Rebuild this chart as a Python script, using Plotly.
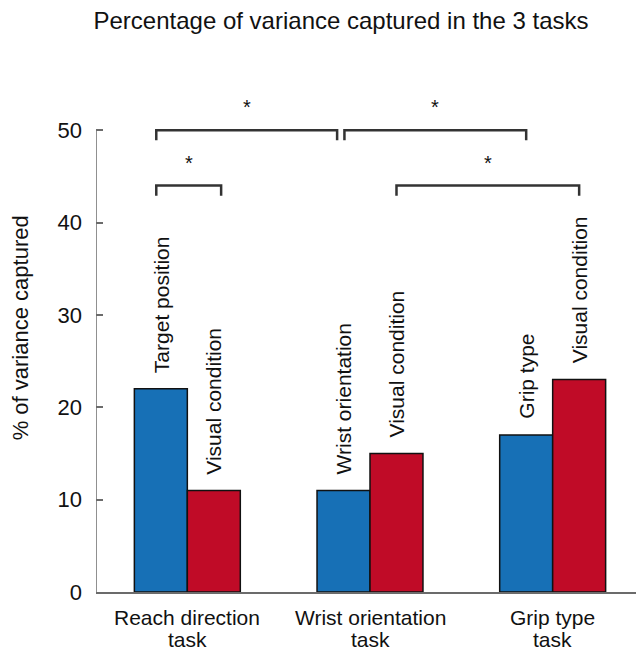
import plotly.graph_objects as go

# ---- data ----
tasks = ["Reach direction", "Wrist orientation", "Grip type"]
task_suffix = ["task", "task", "task"]
task_factor = [22, 11, 17]          # blue bars
visual_condition = [11, 15, 23]     # red bars
factor_labels = ["Target position", "Wrist orientation", "Grip type"]
visual_labels = ["Visual condition", "Visual condition", "Visual condition"]
y_ticks = [0, 10, 20, 30, 40, 50]
# significance comparisons: (task_a, series_a, task_b, series_b, level)
comparisons = [
    (0, 0, 1, 0, 50),
    (1, 0, 2, 0, 50),
    (0, 0, 0, 1, 44),
    (1, 1, 2, 1, 44),
]
# small horizontal nudges of bracket ends (style)
bracket_nudge = [(-0.025, -0.035), (0.005, 0.0), (-0.025, 0.04), (0.0, 0.0)]

BLUE = "#1770b6"
RED = "#c00b27"
FONT = "Liberation Sans, Arial, Helvetica, sans-serif"
AXIS = "#6b6b6b"

bargap = 0.42
bw = (1 - bargap) / 2
xs = list(range(len(tasks)))

fig = go.Figure()
fig.add_trace(go.Bar(x=xs, y=task_factor, marker=dict(color=BLUE, line=dict(color="#111", width=1.5)),
                     showlegend=False, hoverinfo="skip"))
fig.add_trace(go.Bar(x=xs, y=visual_condition, marker=dict(color=RED, line=dict(color="#111", width=1.5)),
                     showlegend=False, hoverinfo="skip"))

def bar_center(task, series):
    return task + (series - 0.5) * bw

# bar labels
for i in xs:
    for s, (vals, labs) in enumerate([(task_factor, factor_labels), (visual_condition, visual_labels)]):
        fig.add_annotation(x=bar_center(i, s), y=vals[i], text=labs[i], textangle=-90,
                           showarrow=False, xanchor="center", yanchor="bottom", yshift=14,
                           font=dict(family=FONT, size=21, color="#111"))

# category labels (two lines)
for i in xs:
    fig.add_annotation(x=i, y=0, yref="paper", text=tasks[i], showarrow=False,
                       xanchor="center", yanchor="top", yshift=-12,
                       font=dict(family=FONT, size=21, color="#111"))
    fig.add_annotation(x=i, y=0, yref="paper", text=task_suffix[i], showarrow=False,
                       xanchor="center", yanchor="top", yshift=-34,
                       font=dict(family=FONT, size=21, color="#111"))

# significance brackets
drop = 1.1
for (ta, sa, tb, sb, lvl), (n0, n1) in zip(comparisons, bracket_nudge):
    x0 = bar_center(ta, sa) + n0
    x1 = bar_center(tb, sb) + n1
    fig.add_shape(type="path", xref="x", yref="y",
                  path=f"M {x0} {lvl - drop} L {x0} {lvl} L {x1} {lvl} L {x1} {lvl - drop}",
                  line=dict(color="#333", width=2.5))
    fig.add_annotation(x=(x0 + x1) / 2, y=lvl, text="*", showarrow=False, yanchor="bottom",
                       yshift=10, font=dict(family=FONT, size=20, color="#111"))

# y-axis line from 0 to 50 only
fig.add_shape(type="line", xref="x", yref="y", x0=-0.5, x1=-0.5, y0=0, y1=max(y_ticks),
              line=dict(color=AXIS, width=1.5))

fig.add_annotation(text="% of variance captured", xref="paper", yref="paper",
                   x=-0.1387, y=0.521, xanchor="center", yanchor="middle",
                   textangle=-90, showarrow=False,
                   font=dict(family=FONT, size=22, color="#111"))

fig.update_layout(
    width=636, height=644,
    margin=dict(l=88, r=0, t=76, b=60),
    paper_bgcolor="white", plot_bgcolor="white",
    barmode="group", bargap=bargap, bargroupgap=0,
    title=dict(text="Percentage of variance captured in the 3 tasks", x=0.5236, xanchor="center",
               xref="container", y=0.981, yanchor="middle",
               font=dict(family=FONT, size=24, color="#111")),
    xaxis=dict(range=[-0.5, 2.5], tickmode="array", tickvals=xs, showticklabels=False,
               showline=True, linecolor=AXIS, linewidth=1.5, ticks="", showgrid=False,
               zeroline=False),
    yaxis=dict(range=[0, 55], tickmode="array", tickvals=y_ticks, ticks="inside", ticklen=7,
               tickcolor=AXIS, tickwidth=1.5, showline=False, showgrid=False, zeroline=False,
               ticklabelstandoff=13, tickfont=dict(family=FONT, size=22, color="#111")),
)

fig.write_html("out.html")
